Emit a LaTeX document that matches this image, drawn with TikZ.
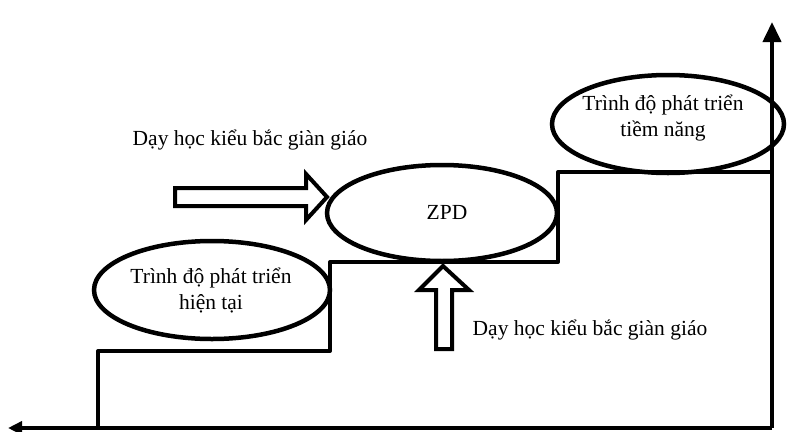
\documentclass[tikz,border=0pt]{standalone}
\usepackage{fontspec}
\setmainfont{Liberation Serif}
\usetikzlibrary{arrows.meta}
\begin{document}
\begin{tikzpicture}[x=1pt,y=-1pt,
  lab/.style={font=\fontsize{21.5}{26}\selectfont,align=center,text=black},
  fatline/.style={line width=4pt,line join=round},
  ellline/.style={line width=4.5pt},
  bigarrow/.style={draw=black,line width=4pt,fill=white,line join=miter}]
\useasboundingbox (0,0) rectangle (797,431);
% axes
\coordinate (o) at (772,428);
\coordinate (xl) at (8,428);
\coordinate (yt) at (772,22);
\draw[fatline,-{Triangle[length=14pt,width=13pt]}] (o) -- (xl);
\draw[fatline,-{Triangle[length=20pt,width=18pt]}] (o) -- (yt);
% staircase
\draw[fatline] (98,428) -- (98,351) -- (330,351) -- (330,262) -- (558,262) -- (558,172) -- (772,172);
% ellipses
\draw[ellline] (212,290) ellipse [x radius=118, y radius=49];
\draw[ellline] (442,213) ellipse [x radius=115, y radius=48];
\draw[ellline] (668,124) ellipse [x radius=116, y radius=49];
\node[lab] (e1) at (211,290) {Trình độ phát triển\\hiện tại};
\node[lab] (zpd) at (447,212) {ZPD};
\node[lab] (e3) at (663,118) {Trình độ phát triển\\tiềm năng};
% hollow arrows
\draw[bigarrow] (175,188) -- (306,188) -- (306,174) -- (327,197) -- (306,220) -- (306,206) -- (175,206) -- cycle;
\draw[bigarrow] (436,349) -- (436,290) -- (419,290) -- (443,266) -- (469,290) -- (452,290) -- (452,349) -- cycle;
% labels
\node[lab] (t1) at (250,140) {Dạy học kiểu bắc giàn giáo};
\node[lab] (t2) at (590,330) {Dạy học kiểu bắc giàn giáo};
\end{tikzpicture}
\end{document}
